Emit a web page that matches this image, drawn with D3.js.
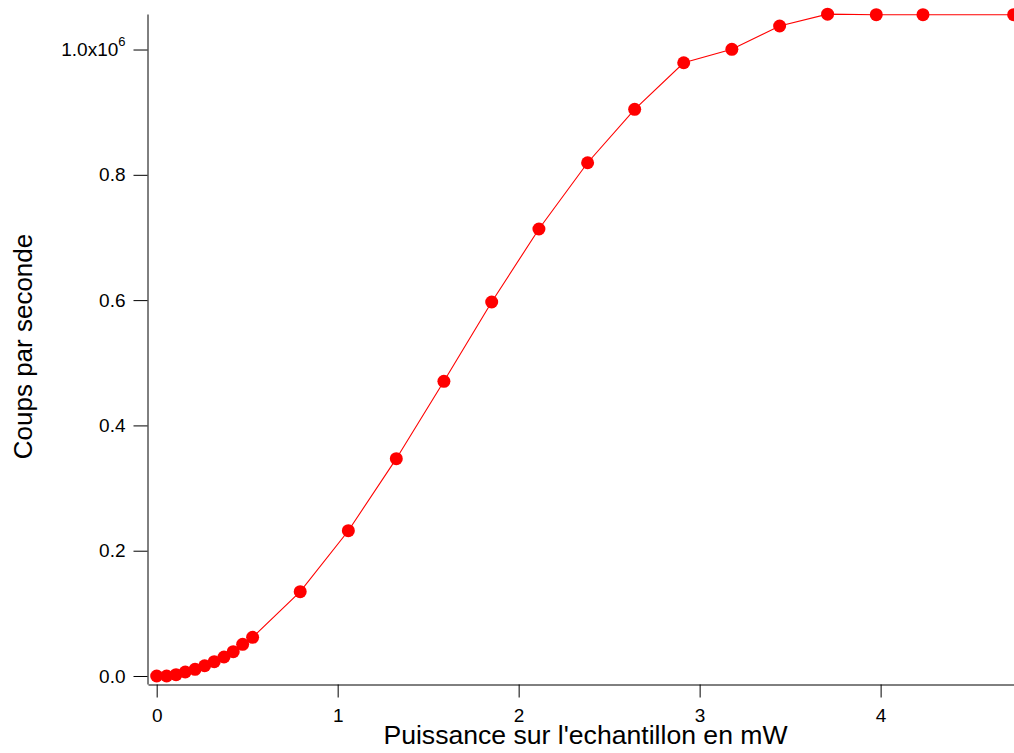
<!DOCTYPE html>
<html>
<head>
<meta charset="utf-8">
<script src="https://cdn.jsdelivr.net/npm/d3@7"></script>
<style>
  html, body { margin: 0; padding: 0; background: #fff; }
  svg { display: block; }
  text { font-family: "Liberation Sans", Arial, sans-serif; fill: #000; }
</style>
</head>
<body>
<svg id="chart" width="1014" height="753"></svg>
<script>
// Data
const powerMW = [0, 0.055, 0.107, 0.158, 0.212, 0.265, 0.318, 0.372, 0.423, 0.475, 0.530,
                 0.793, 1.059, 1.324, 1.587, 1.851, 2.112, 2.381, 2.641, 2.912, 3.178,
                 3.442, 3.707, 3.976, 4.234, 4.735];
const countsPerSecond = [0, 0, 2100, 6400, 10700, 16400, 22800, 30300, 38800, 50600, 61800,
                 134600, 231900, 346900, 470400, 597000, 713500, 819300, 904500, 978900, 1000300,
                 1037500, 1056500, 1055600, 1055600, 1055600];
const xTicks = [0, 1, 2, 3, 4];
const yTicks = [0, 200000, 400000, 600000, 800000, 1000000];
const xTitle = "Puissance sur l'echantillon en mW";
const yTitle = "Coups par seconde";

(function () {
const svg = d3.select("#chart");
const mLeft = 148, mRight = 1014, mTop = 14, mBottom = 684;

const x = d3.scaleLinear().domain([-0.048, 4.737]).range([mLeft, mRight]);
const y = d3.scaleLinear().domain([-12770, 1056700]).range([mBottom, mTop]);

// Axes
const xAxis = d3.axisBottom(x).tickValues(xTicks).tickSize(13).tickSizeOuter(0).tickPadding(11)
  .tickFormat(d3.format("d"));
const gx = svg.append("g").attr("transform", `translate(0,${mBottom + 0.5})`).call(xAxis);
gx.selectAll("text").style("font-size", "19px");

const yAxis = d3.axisLeft(y).tickValues(yTicks).tickSize(14).tickSizeOuter(0).tickPadding(8)
  .tickFormat(d => d === 1000000 ? "" : d3.format(".1f")(d / 1e6));
const gy = svg.append("g").attr("transform", `translate(${mLeft - 0.5},0)`).call(yAxis);
gy.selectAll("text").style("font-size", "19px");
gy.selectAll(".tick").filter(d => d === 1000000).select("text")
  .each(function() {
    const t = d3.select(this);
    t.text(null);
    t.append("tspan").text("1.0x10");
    t.append("tspan").style("font-size", "13px").attr("dy", "-0.75em").text("6");
  });
svg.selectAll(".domain, .tick line").attr("stroke", "#000").attr("stroke-width", 1);

const data = powerMW.map((p, i) => ({ p, c: countsPerSecond[i] }));
const line = d3.line().x(d => x(d.p)).y(d => y(d.c));

const plot = svg.append("g");
plot.append("path").datum(data)
  .attr("d", line)
  .attr("fill", "none")
  .attr("stroke", "#ff0000")
  .attr("stroke-width", 1.1);
plot.selectAll("circle").data(data).enter().append("circle")
  .attr("cx", d => x(d.p))
  .attr("cy", d => y(d.c))
  .attr("r", 6.5)
  .attr("fill", "#ff0000");

// Titles
svg.append("text")
  .attr("x", 585.5).attr("y", 744)
  .attr("text-anchor", "middle")
  .style("font-size", "26.6px")
  .text(xTitle);
svg.append("text")
  .attr("transform", "translate(32,346.5) rotate(-90)")
  .attr("text-anchor", "middle")
  .style("font-size", "26px")
  .text(yTitle);
})();
</script>
</body>
</html>
